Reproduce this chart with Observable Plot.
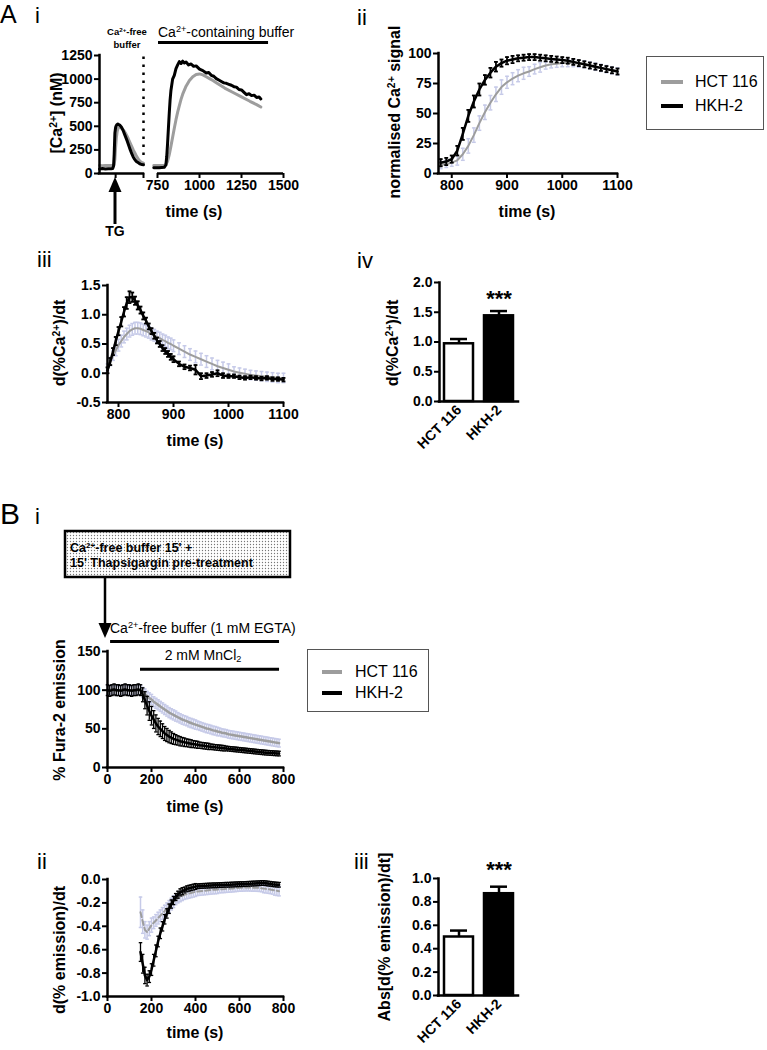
<!DOCTYPE html>
<html><head><meta charset="utf-8">
<script src="https://cdn.jsdelivr.net/npm/d3@7"></script>
<script src="https://cdn.jsdelivr.net/npm/@observablehq/plot@0.6"></script>
<style>
body{margin:0;background:#fff;}
#fig{position:relative;width:767px;height:1050px;font-family:"Liberation Sans",Arial,Helvetica,sans-serif;color:#000;overflow:hidden;background:#fff}
.t{position:absolute;white-space:nowrap;line-height:1}
sup{font-size:0.65em;vertical-align:0.5em;line-height:0}
sub{font-size:0.65em;vertical-align:-0.25em;line-height:0}
.lg{position:absolute;border:1px solid #555;background:#fff}
.ln{position:absolute;height:4px}
</style></head><body><div id="fig"></div>
<script>
// ---------------- DATA ----------------
const cells = ["HCT 116", "HKH-2"];

// A i : [Ca2+] (nM) traces, segment before axis break (Ca2+-free buffer, TG added)
const aiT1   = [0, 20, 40, 60, 80, 90, 96, 100, 105, 110, 115, 120, 125, 130, 140, 150, 160, 170, 180, 190, 200, 210, 220, 230, 240, 250, 260, 270, 280, 290, 300];
const aiHKH1 = [48, 52, 47, 50, 50, 52, 80, 200, 430, 490, 510, 520, 525, 520, 510, 490, 460, 420, 380, 340, 295, 250, 210, 175, 150, 130, 118, 108, 100, 95, 92];
const aiHCT1 = [85, 82, 86, 84, 85, 85, 86, 95, 150, 280, 380, 440, 470, 485, 490, 480, 465, 445, 420, 390, 355, 320, 285, 250, 220, 190, 165, 140, 125, 115, 110];
// A i : segment after the break (Ca2+-containing buffer)
const aiT2HKH = [728, 760, 790, 800, 805, 810, 815, 820, 825, 830, 840, 850, 860, 870, 880, 890, 900, 910, 920, 935, 950, 965, 980, 1000, 1020, 1040, 1055, 1070, 1085, 1100, 1115, 1130, 1145, 1160, 1175, 1190, 1205, 1220, 1235, 1250, 1265, 1280, 1295, 1310, 1325, 1340, 1355, 1365];
const aiHKH2  = [62, 60, 65, 90, 180, 320, 480, 640, 780, 880, 1000, 1040, 1110, 1150, 1185, 1165, 1190, 1170, 1180, 1150, 1160, 1135, 1140, 1105, 1090, 1065, 1070, 1040, 1030, 1005, 990, 975, 960, 955, 945, 935, 920, 915, 890, 885, 860, 835, 845, 825, 830, 805, 810, 790];
const aiT2HCT = [728, 760, 790, 800, 810, 820, 830, 840, 850, 860, 870, 880, 890, 900, 920, 940, 960, 980, 1000, 1020, 1040, 1060, 1080, 1100, 1150, 1200, 1250, 1300, 1340, 1365];
const aiHCT2  = [85, 84, 86, 95, 130, 200, 290, 385, 480, 570, 650, 720, 785, 840, 925, 985, 1025, 1048, 1055, 1045, 1025, 1005, 985, 962, 905, 858, 812, 765, 730, 705];
const aiYTicks = [0, 250, 500, 750, 1000, 1250];
const aiXTicks1 = [110, 300];
const aiXTicks2 = [750, 1000, 1250, 1500];
const aiDivider = [300];
const aiBufferLevel = [1388];
const aiBufferSpan = [756, 1411];

// A ii : normalised Ca2+ signal (mean ± SEM)
const aiiT = [780, 790, 800, 810, 820, 830, 840, 850, 860, 870, 880, 890, 900, 910, 920, 930, 940, 950, 960, 970, 980, 990, 1000, 1010, 1020, 1030, 1040, 1050, 1060, 1070, 1080, 1090, 1100];
const aiiHKH    = [9, 10, 12, 19, 33, 48, 60, 70, 78, 84, 89, 92, 94, 95, 96, 96.5, 97, 97, 96.5, 96, 95.5, 95, 94.5, 94, 93, 92, 91, 90, 89, 88, 87, 86, 85];
const aiiHKHerr = [3, 3, 3, 4, 5, 5, 5, 5, 4, 4, 4, 3, 3, 3, 2.5, 2.5, 2.5, 2.5, 2.5, 2.5, 2.5, 2.5, 2.5, 2.5, 2.5, 2.5, 2.5, 2.5, 2.5, 2.5, 2.5, 2.5, 2.5];
const aiiHCT    = [7, 8, 9, 11, 16, 23, 32, 42, 51, 59, 66, 72, 76, 79, 81.5, 83.5, 85, 87, 88.5, 90, 91, 91.5, 92, 92, 92, 91.5, 91, 90, 89, 88, 87, 86, 85];
const aiiHCTerr = [3, 3, 3, 4, 5, 6, 6, 6, 6, 6, 6, 6, 5, 5, 5, 5, 4, 4, 4, 3, 3, 3, 3, 3, 3, 3, 3, 3, 3, 3, 3, 3, 3];
const aiiYTicks = [0, 25, 50, 75, 100];
const aiiXTicks = [800, 900, 1000, 1100];

// A iii : d(%Ca2+)/dt (mean ± SEM)
const aiiiT = [780, 785, 790, 795, 800, 805, 810, 815, 820, 825, 830, 835, 840, 845, 850, 855, 860, 865, 870, 875, 880, 885, 890, 895, 900, 910, 920, 930, 940, 950, 960, 970, 980, 990, 1000, 1010, 1020, 1030, 1040, 1050, 1060, 1070, 1080, 1090, 1100];
const aiiiHKH    = [0.05, 0.2, 0.37, 0.55, 0.72, 0.88, 1.05, 1.2, 1.3, 1.3, 1.24, 1.16, 1.08, 0.98, 0.9, 0.8, 0.72, 0.64, 0.56, 0.5, 0.43, 0.38, 0.33, 0.28, 0.24, 0.16, 0.11, 0.09, 0.06, -0.05, -0.04, -0.02, 0.0, -0.04, -0.05, -0.05, -0.07, -0.08, -0.07, -0.08, -0.09, -0.08, -0.1, -0.1, -0.11];
const aiiiHKHerr = [0.05, 0.06, 0.06, 0.07, 0.07, 0.08, 0.08, 0.1, 0.1, 0.08, 0.07, 0.07, 0.06, 0.06, 0.05, 0.05, 0.05, 0.05, 0.05, 0.05, 0.05, 0.05, 0.05, 0.05, 0.05, 0.04, 0.04, 0.04, 0.08, 0.05, 0.04, 0.04, 0.05, 0.04, 0.03, 0.03, 0.03, 0.03, 0.03, 0.03, 0.03, 0.03, 0.03, 0.03, 0.03];
const aiiiHCT    = [0.1, 0.2, 0.3, 0.39, 0.48, 0.55, 0.62, 0.67, 0.72, 0.75, 0.77, 0.77, 0.76, 0.74, 0.72, 0.7, 0.67, 0.65, 0.62, 0.6, 0.57, 0.55, 0.52, 0.5, 0.47, 0.42, 0.37, 0.32, 0.28, 0.24, 0.2, 0.16, 0.12, 0.09, 0.06, 0.03, 0.01, -0.01, -0.03, -0.04, -0.05, -0.06, -0.07, -0.08, -0.08];
const aiiiHCTerr = [0.06, 0.07, 0.08, 0.09, 0.1, 0.1, 0.1, 0.1, 0.1, 0.1, 0.1, 0.1, 0.1, 0.1, 0.1, 0.1, 0.1, 0.1, 0.1, 0.1, 0.1, 0.1, 0.1, 0.1, 0.1, 0.1, 0.1, 0.1, 0.1, 0.1, 0.1, 0.1, 0.1, 0.1, 0.1, 0.08, 0.08, 0.08, 0.08, 0.08, 0.08, 0.08, 0.08, 0.08, 0.08];
const aiiiYTicks = [-0.5, 0, 0.5, 1, 1.5];
const aiiiXTicks = [800, 900, 1000, 1100];

// A iv : peak d(%Ca2+)/dt bars
const aivMean = [0.97, 1.44];
const aivSem  = [0.08, 0.08];
const aivSig  = ["", "***"];
const aivYTicks = [0, 0.5, 1, 1.5, 2];

// B i : % Fura-2 emission (Mn2+ quench), t = 0..780 s every 10 s
const biT = [0,10,20,30,40,50,60,70,80,90,100,110,120,130,140,150,160,170,180,190,200,210,220,230,240,250,260,270,280,290,300,310,320,330,340,350,360,370,380,390,400,410,420,430,440,450,460,470,480,490,500,510,520,530,540,550,560,570,580,590,600,610,620,630,640,650,660,670,680,690,700,710,720,730,740,750,760,770,780];
const biHCT = [100,100,101,100,99,100,100,101,100,100,99,100,100,101,100,100,
  97,95,92,90,88,85,83,81,79,77,75,73,71,69.5,68,66.5,65,63.5,62,61,60,58.5,57.5,56.5,55.5,
  54.5,53.5,52.5,51.5,50.5,50,49,48,47.5,46.5,
  46,45,44.5,44,43,42.5,42,41.5,41,40.5,
  40,39.5,39,38.5,38,37.5,37,36.5,36,35.5,
  35,34.5,34,33.5,33,32.5,32,31.5];
const biHCTerr = [6,6,6,6,6,6,6,6,6,6,6,6,6,6,6,6,
  6.5,6.5,6.5,6.5,6.5,6.5,6.5,6.5,6.5,6.5,6.5,6.5,6.5,6.5,6.5,6.5,6,6,6,6,6,6,6,6,6,
  5.5,5.5,5.5,5.5,5.5,5.5,5.5,5.5,5.5,5.5,
  5,5,5,5,5,5,5,5,5,5,
  5,5,5,5,5,5,5,5,5,5,
  5,5,5,5,5,5,5,5];
const biHKH = [100,99,100,101,100,100,99,100,101,100,100,99,100,100,101,100,
  94,87,80,73,67,62,57,53,50,47,44,42,40,38.5,37,36,35,34,33.3,32.6,32,31.4,30.8,30.3,29.8,
  29.3,28.8,28.4,28,27.6,27.2,26.8,26.5,26.1,25.8,
  25.5,25.2,24.9,24.6,24.3,24,23.7,23.4,23.1,22.8,
  22.5,22.2,21.9,21.6,21.3,21,20.7,20.4,20.1,19.8,
  19.5,19.2,19,18.8,18.6,18.4,18.2,18];
const biHKHerr = [7,7,7,7,7,7,7,7,7,7,7,7,7,7,7,7,
  9,11,12,12,12,11.5,11,10.5,10,9.5,9,8.5,8,7.5,7,6.5,6,6,5.5,5.5,5,5,5,4.5,4.5,
  4.5,4,4,4,4,4,3.5,3.5,3.5,3.5,
  3.5,3.5,3.5,3,3,3,3,3,3,3,
  3,3,3,3,3,3,3,3,3,3,
  3,3,3,3,3,3,3,3];
const biYTicks = [0, 50, 100, 150];
const bXTicks = [0, 200, 400, 600, 800];
const biEgtaLevel = [163], biEgtaSpan = [14, 782];
const biMnLevel = [127], biMnSpan = [150, 782];

// B ii : d(% emission)/dt, t = 150..780 s every 10 s
const biiT = [150,160,170,180,190,200,210,220,230,240,250,260,270,280,290,300,310,320,330,340,350,360,370,380,390,400,410,420,430,440,450,460,470,480,490,500,510,520,530,540,550,560,570,580,590,600,610,620,630,640,650,660,670,680,690,700,710,720,730,740,750,760,770,780];
const biiHKH = [-0.62,-0.72,-0.82,-0.86,-0.83,-0.77,-0.69,-0.61,-0.53,-0.46,-0.4,-0.34,-0.29,-0.25,-0.21,-0.18,-0.15,-0.13,-0.11,-0.1,-0.09,-0.08,-0.075,-0.07,-0.065,-0.06,
  -0.058,-0.056,-0.055,-0.054,-0.053,-0.052,-0.051,-0.05,-0.05,-0.049,
  -0.048,-0.047,-0.046,-0.045,-0.045,-0.044,-0.043,-0.042,-0.041,-0.04,
  -0.04,-0.039,-0.038,-0.037,-0.036,-0.035,-0.034,-0.033,-0.032,-0.03,
  -0.03,-0.032,-0.035,-0.037,-0.04,-0.042,-0.044,-0.045];
const biiHKHerr = [0.08,0.08,0.07,0.05,0.05,0.05,0.05,0.05,0.045,0.045,0.04,0.04,0.04,0.04,0.035,0.035,0.03,0.03,0.03,0.03,0.025,0.025,0.025,0.025,0.025,0.025,
  0.02,0.02,0.02,0.02,0.02,0.02,0.02,0.02,0.02,0.02,
  0.02,0.02,0.02,0.02,0.02,0.02,0.02,0.02,0.02,0.02,
  0.02,0.02,0.02,0.02,0.02,0.02,0.02,0.02,0.02,0.02,
  0.02,0.02,0.02,0.02,0.02,0.02,0.02,0.02];
const biiHCT = [-0.28,-0.36,-0.43,-0.45,-0.42,-0.39,-0.37,-0.35,-0.33,-0.31,-0.29,-0.27,-0.25,-0.23,-0.21,-0.19,-0.175,-0.16,-0.15,-0.14,-0.13,-0.125,-0.12,-0.115,-0.11,-0.105,
  -0.102,-0.1,-0.098,-0.096,-0.094,-0.092,-0.09,-0.088,-0.087,-0.085,
  -0.084,-0.083,-0.082,-0.08,-0.079,-0.078,-0.076,-0.074,-0.072,-0.07,
  -0.07,-0.069,-0.068,-0.068,-0.069,-0.07,-0.07,-0.071,-0.072,-0.075,
  -0.078,-0.08,-0.083,-0.086,-0.09,-0.094,-0.097,-0.1];
const biiHCTerr = [0.13,0.1,0.07,0.06,0.06,0.06,0.05,0.05,0.05,0.05,0.05,0.05,0.05,0.05,0.05,0.05,0.04,0.04,0.04,0.04,0.04,0.04,0.04,0.04,0.04,0.04,
  0.035,0.035,0.035,0.035,0.035,0.035,0.035,0.035,0.035,0.035,
  0.03,0.03,0.03,0.03,0.03,0.03,0.03,0.03,0.03,0.03,
  0.03,0.03,0.03,0.03,0.03,0.03,0.03,0.03,0.03,0.03,
  0.035,0.035,0.035,0.035,0.035,0.04,0.04,0.04];
const biiYTicks = [-1, -0.8, -0.6, -0.4, -0.2, 0];

// B iii : Abs[d(% emission)/dt] bars
const biiiMean = [0.50, 0.87];
const biiiSem  = [0.055, 0.06];
const biiiSig  = ["", "***"];
const biiiYTicks = [0, 0.2, 0.4, 0.6, 0.8, 1.0];

// ---------------- DRAWING ----------------
const fig = document.getElementById("fig");
const W = 767, H = 1050;
const FONT = "'Liberation Sans', Arial, Helvetica, sans-serif";
const BLACK = "#000", GREY = "#9d9d9d", LAV = "#c6cae8";
const barFill = ["#ffffff", "#000000"];

function frame(x0, x1, y0, y1) {
  return {width: W, height: H, marginLeft: x0, marginRight: W - x1, marginTop: y0, marginBottom: H - y1};
}
function mount(svg) {
  svg.setAttribute("style", `position:absolute;left:0;top:0;background:transparent;overflow:visible;font-family:${FONT};font-size:14px;font-weight:bold;color:#000;`);
  fig.appendChild(svg);
}
const fInt = d => String(d);
const f1 = d => d.toFixed(1);
const AX = {tickSize: 5, tickPadding: 2, strokeWidth: 2, label: null, tickFormat: fInt};
function rows(t, v, e) {
  return t.map((d, i) => ({t: d, v: v[i], lo: v[i] - (e ? e[i] : 0), hi: v[i] + (e ? e[i] : 0)}));
}
function errBars(data, color, cap, w = 1.5) {
  return [
    Plot.ruleX(data, {x: "t", y1: "lo", y2: "hi", stroke: color, strokeWidth: w}),
    Plot.link(data, {x1: d => d.t - cap, x2: d => d.t + cap, y1: "hi", y2: "hi", stroke: color, strokeWidth: w}),
    Plot.link(data, {x1: d => d.t - cap, x2: d => d.t + cap, y1: "lo", y2: "lo", stroke: color, strokeWidth: w})
  ];
}
function axisLines(x0, y0) {
  return [
    Plot.ruleX([x0], {strokeWidth: 2.5, strokeLinecap: "square"}),
    Plot.ruleY([y0], {strokeWidth: 2.5, strokeLinecap: "square"})
  ];
}
function barRows(mean, sem, sig) {
  return cells.map((c, i) => ({cell: c, v: mean[i], hi: mean[i] + sem[i], sig: sig[i], fill: barFill[i]}));
}
function barPanel(box, data, yTicks, ydom, sigDy) {
  return Plot.plot({
    ...frame(...box),
    x: {domain: cells, paddingInner: 0.275, paddingOuter: 0.125},
    y: {domain: ydom},
    color: {type: "identity"},
    marks: [
      Plot.ruleX(data, {x: "cell", y1: "v", y2: "hi", strokeWidth: 2.5}),
      Plot.tickY(data, {x: "cell", y: "hi", strokeWidth: 2.5, insetLeft: 6, insetRight: 6}),
      Plot.barY(data, {x: "cell", y: "v", fill: "fill", stroke: "#000", strokeWidth: 2.5}),
      Plot.text(data, {x: "cell", y: "hi", text: "sig", dy: sigDy, fontSize: 22}),
      Plot.frame({anchor: "left", strokeWidth: 2.5}),
      Plot.ruleY([ydom[0]], {strokeWidth: 2.5, strokeLinecap: "square"}),
      Plot.axisY(yTicks, {...AX, tickFormat: f1}),
      Plot.axisX(cells, {tickSize: 0, tickPadding: 6, tickRotate: -45, label: null})
    ]
  });
}

// A i - first segment
mount(Plot.plot({
  ...frame(99, 143, 55, 173),
  x: {domain: [0, 300]}, y: {domain: [0, 1250]},
  marks: [
    Plot.ruleX(aiDivider, {y1: 190, y2: 1250, strokeWidth: 2.5, strokeDasharray: "2.5,5.5"}),
    Plot.line(rows(aiT1, aiHCT1), {x: "t", y: "v", stroke: GREY, strokeWidth: 3}),
    Plot.line(rows(aiT1, aiHKH1), {x: "t", y: "v", stroke: BLACK, strokeWidth: 3}),
    ...axisLines(0, 0),
    Plot.axisY(aiYTicks, AX),
    Plot.axisX(aiXTicks1, {...AX, tickFormat: () => ""})
  ]
}));
// A i - second segment
mount(Plot.plot({
  ...frame(157, 283, 55, 173),
  x: {domain: [750, 1500]}, y: {domain: [0, 1250], axis: null},
  marks: [
    Plot.line(rows(aiT2HCT, aiHCT2), {x: "t", y: "v", stroke: GREY, strokeWidth: 3}),
    Plot.line(rows(aiT2HKH, aiHKH2), {x: "t", y: "v", stroke: BLACK, strokeWidth: 3}),
    Plot.ruleY(aiBufferLevel, {x1: aiBufferSpan[0], x2: aiBufferSpan[1], strokeWidth: 3}),
    Plot.ruleY([0], {strokeWidth: 2.5}),
    Plot.axisX(aiXTicks2, AX)
  ]
}));
// A ii
{
  const g = rows(aiiT, aiiHCT, aiiHCTerr), k = rows(aiiT, aiiHKH, aiiHKHerr);
  mount(Plot.plot({
    ...frame(438, 617, 53, 173),
    x: {domain: [776, 1100]}, y: {domain: [0, 100]},
    marks: [
      ...errBars(g, LAV, 3.5),
      Plot.line(g, {x: "t", y: "v", stroke: GREY, strokeWidth: 2}),
      ...errBars(k, BLACK, 3.5, 1.8),
      Plot.line(k, {x: "t", y: "v", stroke: BLACK, strokeWidth: 2.5}),
      ...axisLines(776, 0),
      Plot.axisY(aiiYTicks, AX),
      Plot.axisX(aiiXTicks, AX)
    ]
  }));
}
// A iii
{
  const g = rows(aiiiT, aiiiHCT, aiiiHCTerr), k = rows(aiiiT, aiiiHKH, aiiiHKHerr);
  mount(Plot.plot({
    ...frame(107, 283, 285, 402),
    x: {domain: [780, 1100]}, y: {domain: [-0.5, 1.5]},
    marks: [
      ...errBars(g, LAV, 3.5),
      Plot.line(g, {x: "t", y: "v", stroke: GREY, strokeWidth: 2}),
      ...errBars(k, BLACK, 3.5, 1.8),
      Plot.line(k, {x: "t", y: "v", stroke: BLACK, strokeWidth: 2.5}),
      ...axisLines(780, -0.5),
      Plot.axisY(aiiiYTicks, {...AX, tickFormat: f1}),
      Plot.axisX(aiiiXTicks, AX)
    ]
  }));
}
// A iv
mount(barPanel([439, 518, 282, 401], barRows(aivMean, aivSem, aivSig), aivYTicks, [0, 2], -12));
// B i
{
  const g = rows(biT, biHCT, biHCTerr), k = rows(biT, biHKH, biHKHerr);
  mount(Plot.plot({
    ...frame(107, 283, 651, 767),
    x: {domain: [0, 800]}, y: {domain: [0, 150]},
    marks: [
      ...errBars(g, LAV, 8, 1.5),
      Plot.line(g, {x: "t", y: "v", stroke: GREY, strokeWidth: 2.5}),
      ...errBars(k, BLACK, 8, 1.3),
      Plot.line(k, {x: "t", y: "v", stroke: BLACK, strokeWidth: 2.5}),
      Plot.ruleY(biEgtaLevel, {x1: biEgtaSpan[0], x2: biEgtaSpan[1], strokeWidth: 3}),
      Plot.ruleY(biMnLevel, {x1: biMnSpan[0], x2: biMnSpan[1], strokeWidth: 3}),
      ...axisLines(0, 0),
      Plot.axisY(biYTicks, AX),
      Plot.axisX(bXTicks, AX)
    ]
  }));
}
// B ii
{
  const g = rows(biiT, biiHCT, biiHCTerr), k = rows(biiT, biiHKH, biiHKHerr);
  mount(Plot.plot({
    ...frame(107, 283, 879, 996),
    x: {domain: [0, 800]}, y: {domain: [-1, 0]},
    marks: [
      ...errBars(g, LAV, 8, 1.5),
      Plot.line(g, {x: "t", y: "v", stroke: GREY, strokeWidth: 2, strokeDasharray: "5,3"}),
      ...errBars(k, BLACK, 8, 1.3),
      Plot.line(k, {x: "t", y: "v", stroke: BLACK, strokeWidth: 2.5}),
      ...axisLines(0, -1),
      Plot.axisY(biiYTicks, {...AX, tickFormat: f1}),
      Plot.axisX(bXTicks, AX)
    ]
  }));
}
// B iii
mount(barPanel([438, 518, 878, 995], barRows(biiiMean, biiiSem, biiiSig), biiiYTicks, [0, 1], -17));

// ---------------- ANNOTATION SHAPES ----------------
const ov = d3.create("svg").attr("width", W).attr("height", H)
  .attr("style", "position:absolute;left:0;top:0;overflow:visible");
const pat = ov.append("defs").append("pattern").attr("id", "stip")
  .attr("width", 3).attr("height", 3).attr("patternUnits", "userSpaceOnUse");
pat.append("rect").attr("width", 3).attr("height", 3).attr("fill", "#fff");
pat.append("circle").attr("cx", 1.5).attr("cy", 1.5).attr("r", 0.65).attr("fill", "#777");
// TG arrow
ov.append("line").attr("x1", 115).attr("x2", 115).attr("y1", 224).attr("y2", 190).attr("stroke", "#000").attr("stroke-width", 3);
ov.append("path").attr("d", "M108.5,192 L121.5,192 L115,177 Z").attr("fill", "#000");
// pre-treatment box + arrow
ov.append("rect").attr("x", 65).attr("y", 531).attr("width", 225).attr("height", 46)
  .attr("fill", "url(#stip)").attr("stroke", "#000").attr("stroke-width", 2.5);
ov.append("line").attr("x1", 105).attr("x2", 105).attr("y1", 578).attr("y2", 625).attr("stroke", "#000").attr("stroke-width", 2.5);
ov.append("path").attr("d", "M98.5,623 L111.5,623 L105,638 Z").attr("fill", "#000");
fig.appendChild(ov.node());

// ---------------- TEXT ----------------
function txt(html, x, y, {size = 16, bold = true, anchor = "start", rot = false} = {}) {
  const d = document.createElement("div");
  d.className = "t";
  d.innerHTML = html;
  d.style.left = x + "px"; d.style.top = y + "px";
  d.style.fontSize = size + "px";
  d.style.fontWeight = bold ? "bold" : "normal";
  const tx = anchor === "middle" ? "-50%" : anchor === "end" ? "-100%" : "0";
  d.style.transform = rot ? "translate(-50%,-50%) rotate(-90deg)" : `translate(${tx},-50%)`;
  fig.appendChild(d);
  return d;
}
// panel letters
txt("A", 0, 14, {size: 25, bold: false});
txt("i", 35, 15.5, {size: 22, bold: false});
txt("ii", 357, 18, {size: 22, bold: false});
txt("iii", 37, 260, {size: 22, bold: false});
txt("iv", 357, 261, {size: 22, bold: false});
txt("B", 0, 513.5, {size: 30, bold: false});
txt("i", 35, 517, {size: 22, bold: false});
txt("ii", 37, 862, {size: 22, bold: false});
txt("iii", 354, 862, {size: 22, bold: false});

// A i annotations
txt("Ca<sup>2+</sup>-free", 127, 32, {size: 9.5, anchor: "middle"});
txt("buffer", 127, 45, {size: 9.5, anchor: "middle"});
txt("Ca<sup>2+</sup>-containing buffer", 158, 31.5, {size: 14, bold: false});
txt("TG", 115, 231, {size: 14, anchor: "middle"});

// axis titles
txt("[Ca<sup>2+</sup>] (nM)", 57, 113, {rot: true});
txt("time (s)", 194, 212, {anchor: "middle"});
txt("normalised Ca<sup>2+</sup> signal", 395, 112, {rot: true});
txt("time (s)", 527, 212, {anchor: "middle"});
txt("d(%Ca<sup>2+</sup>)/dt", 60, 343, {rot: true});
txt("time (s)", 195, 441, {anchor: "middle"});
txt("d(%Ca<sup>2+</sup>)/dt", 393, 343, {rot: true});
txt("% Fura-2 emission", 60, 710, {rot: true});
txt("time (s)", 195, 807, {anchor: "middle"});
txt("d(% emission)/dt", 60, 950, {rot: true});
txt("time (s)", 195, 1033, {anchor: "middle"});
txt("Abs[d(% emission)/dt]", 385, 937, {rot: true});

// B i annotations
txt("Ca<sup>2+</sup>-free buffer 15' +", 70, 548, {size: 12.5});
txt("15' Thapsigargin pre-treatment", 70, 563, {size: 12.5});
txt("Ca<sup>2+</sup>-free buffer (1 mM EGTA)", 110, 628, {size: 14, bold: false});
txt("2 mM MnCl<sub>2</sub>", 203, 655, {size: 14, bold: false, anchor: "middle"});

// legends
function legend(x, y, w, h, lineX, lineW, textX, rowsY) {
  const b = document.createElement("div");
  b.className = "lg";
  Object.assign(b.style, {left: x + "px", top: y + "px", width: w + "px", height: h + "px"});
  fig.appendChild(b);
  const colors = [GREY, BLACK];
  cells.forEach((c, i) => {
    const l = document.createElement("div");
    l.className = "ln";
    Object.assign(l.style, {left: lineX + "px", top: (rowsY[i] - 2) + "px", width: lineW + "px", background: colors[i]});
    fig.appendChild(l);
    txt(c, textX, rowsY[i], {size: 16, bold: false});
  });
}
legend(646, 56, 116, 72, 661, 22, 695, [82, 106]);
legend(307, 649, 120, 61, 322, 20, 355, [672, 693]);
</script></body></html>
